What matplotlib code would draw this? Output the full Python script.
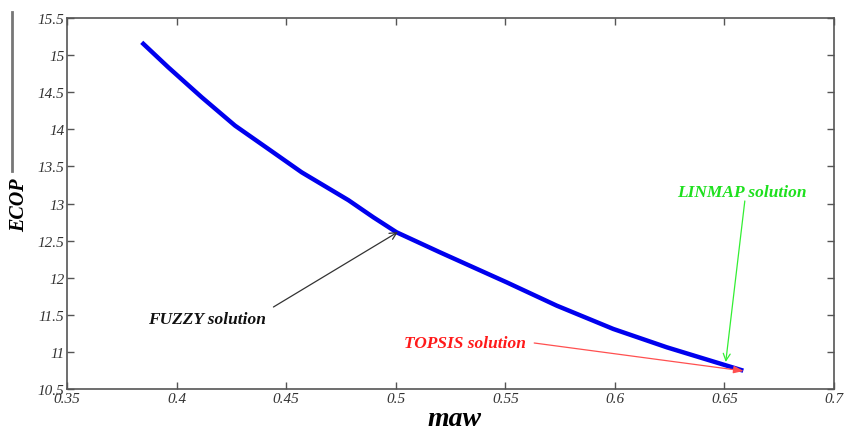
import matplotlib
matplotlib.use("Agg")
import matplotlib.pyplot as plt
from matplotlib.lines import Line2D

# Pareto front points
maw = [0.3841, 0.3962, 0.4115, 0.4267, 0.4419, 0.4571, 0.4784,
       0.4898, 0.5004, 0.5202, 0.5354, 0.5506, 0.5735, 0.5993, 0.6237, 0.6586]
ecop = [15.172, 14.836, 14.431, 14.049, 13.735, 13.420, 13.045,
        12.814, 12.612, 12.342, 12.140, 11.938, 11.623, 11.309, 11.062, 10.747]

xticks = [0.35, 0.4, 0.45, 0.5, 0.55, 0.6, 0.65, 0.7]
yticks = [10.5, 11, 11.5, 12, 12.5, 13, 13.5, 14, 14.5, 15, 15.5]
xtick_labels = ["0.35", "0.4", "0.45", "0.5", "0.55", "0.6", "0.65", "0.7"]
ytick_labels = ["10.5", "11", "11.5", "12", "12.5", "13", "13.5", "14", "14.5", "15", "15.5"]

# annotations: label, text position, arrow tail, arrow tip, colour
ann_labels = ["FUZZY solution", "LINMAP solution", "TOPSIS solution"]
ann_text_xy = [(0.3871, 11.443), (0.6282, 13.155), (0.5037, 11.12)]
ann_tail_xy = [(0.4442, 11.605), (0.6593, 13.034), (0.5632, 11.12)]
ann_tip_xy = [(0.5010, 12.616), (0.6506, 10.864), (0.6588, 10.743)]
ann_colors = ["#111111", "#1ee01e", "#ff1a1a"]
ann_line_colors = ["#333333", "#33ee33", "#ff5050"]

plt.rcParams['font.family'] = ['Liberation Serif', 'DejaVu Serif']

fig = plt.figure(figsize=(8.44, 4.31), dpi=100)
ax = fig.add_axes([67/844, 1-390/431, (834-67)/844, (390-19)/431])

ax.plot(maw, ecop, color="#0000ee", lw=3.2, solid_capstyle='butt',
        solid_joinstyle='round')

ax.set_xlim(0.35, 0.7)
ax.set_ylim(10.5, 15.5)
ax.set_xticks(xticks)
ax.set_xticklabels(xtick_labels, fontstyle='italic', fontsize=11, color='#333333')
ax.set_yticks(yticks)
ax.set_yticklabels(ytick_labels, fontstyle='italic', fontsize=11, color='#333333')
ax.tick_params(direction='in', top=True, right=True, length=5, width=1,
               color='#555555', pad=2)
for s in ax.spines.values():
    s.set_color('#555555')
    s.set_linewidth(1.2)

fig.text(454/844, 1-426/431, "maw", fontsize=20, fontweight='bold',
         fontstyle='italic', ha='center', va='baseline')
fig.text(19/844, 1-205/431, "ECOP", fontsize=14.5, fontweight='bold',
         fontstyle='italic', ha='center', va='center', rotation=90)

styles = ['->,head_length=0.5,head_width=0.25',
          '->,head_length=0.5,head_width=0.25',
          '-|>,head_length=0.6,head_width=0.22']
for lab, txy, tail, tip, c, lc, st in zip(ann_labels, ann_text_xy, ann_tail_xy,
                                          ann_tip_xy, ann_colors, ann_line_colors, styles):
    ax.text(txy[0], txy[1], lab, color=c, fontsize=12.5, fontweight='bold',
            fontstyle='italic', ha='left', va='center')
    ax.annotate("", xy=tip, xytext=tail,
                arrowprops=dict(arrowstyle=st, color=lc, lw=0.9,
                                shrinkA=0, shrinkB=0))

fig.add_artist(Line2D([12/844, 12/844], [1-13/431, 1-172/431],
                      color='#777777', lw=2, transform=fig.transFigure))

fig.savefig("out.png", dpi=100, facecolor='white')
